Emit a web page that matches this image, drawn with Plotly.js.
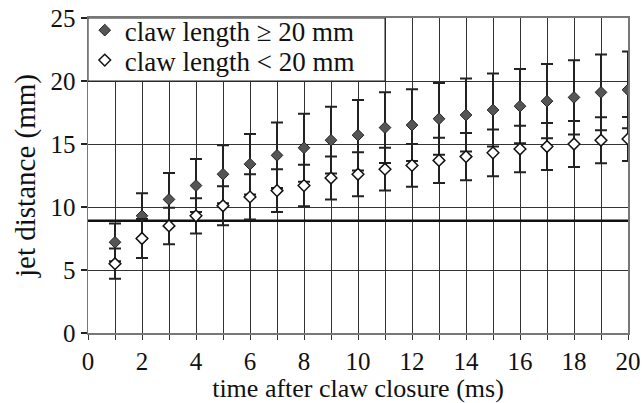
<!DOCTYPE html>
<html>
<head>
<meta charset="utf-8">
<script src="https://cdn.plot.ly/plotly-3.0.1.min.js"></script>
<style>
html,body{margin:0;padding:0;background:#fff;}
#chart{width:643px;height:403px;}
</style>
</head>
<body>
<div id="chart"></div>
<script>
// ---- data ----
const timeMs = [1,2,3,4,5,6,7,8,9,10,11,12,13,14,15,16,17,18,19,20];
const largeClaw = [7.2,9.3,10.6,11.7,12.6,13.4,14.1,14.7,15.3,15.7,16.3,16.5,17.0,17.3,17.7,18.0,18.4,18.7,19.1,19.3];
const largeClawErr = [1.5,1.8,2.1,2.1,2.3,2.4,2.6,2.7,2.65,2.8,2.8,2.85,2.85,2.9,2.9,2.95,2.95,2.95,3.0,3.05];
const smallClaw = [5.5,7.5,8.5,9.3,10.1,10.8,11.3,11.7,12.3,12.6,13.0,13.3,13.7,14.0,14.3,14.6,14.8,15.0,15.3,15.4];
const smallClawErr = [1.2,1.55,1.45,1.4,1.55,1.8,1.7,1.65,1.7,1.75,1.7,1.7,1.8,1.88,1.86,1.85,1.86,1.83,1.83,1.75];
const refLevel = 8.9;
const xTickVals = [0,1,2,3,4,5,6,7,8,9,10,11,12,13,14,15,16,17,18,19,20];
const xTickText = ['0','','2','','4','','6','','8','','10','','12','','14','','16','','18','','20'];
const yTickVals = [0,5,10,15,20,25];
const seriesNames = ['claw length \u2265 20 mm','claw length < 20 mm'];

const xRange = [0,20];
const yRange = [0,25];
const FONT = 'Liberation Serif, serif';

const traces = [
  {
    x: xRange, y: [refLevel, refLevel], mode: 'lines', showlegend: false,
    line: {color: '#111', width: 2.5}, hoverinfo: 'skip'
  },
  {
    x: timeMs, y: largeClaw, name: seriesNames[0], mode: 'markers', type: 'scatter',
    legend: 'legend',
    marker: {symbol: 'diamond', size: 9, color: '#555', line: {color: '#222', width: 1}},
    error_y: {type: 'data', array: largeClawErr, visible: true, color: '#222', thickness: 2, width: 6}
  },
  {
    x: timeMs, y: smallClaw, name: seriesNames[1], mode: 'markers', type: 'scatter',
    legend: 'legend2',
    marker: {symbol: 'diamond', size: 9, color: '#fff', line: {color: '#111', width: 1.5}},
    error_y: {type: 'data', array: smallClawErr, visible: true, color: '#222', thickness: 2, width: 6}
  }
];

const legendStyle = (yPos) => ({
  x: -0.006, y: yPos, xanchor: 'left', yanchor: 'middle',
  bgcolor: 'rgba(0,0,0,0)', borderwidth: 0,
  font: {family: FONT, size: 27, color: '#111'},
  itemclick: false
});

const layout = {
  width: 643, height: 403,
  margin: {l: 88, r: 15, t: 18, b: 70, autoexpand: false},
  paper_bgcolor: '#fff', plot_bgcolor: '#fff',
  font: {family: FONT, size: 25, color: '#111'},
  showlegend: true,
  legend: legendStyle(0.96),
  legend2: legendStyle(0.865),
  xaxis: {
    range: xRange, tickmode: 'array', tickvals: xTickVals, ticktext: xTickText,
    showgrid: true, gridcolor: '#333', gridwidth: 1,
    zeroline: false, showline: true, linecolor: '#777', linewidth: 2, mirror: true,
    ticks: 'outside', ticklen: 5, tickcolor: '#333', tickwidth: 1,
    tickfont: {family: FONT, size: 25, color: '#111'},
    title: {text: 'time after claw closure (ms)', font: {family: FONT, size: 26, color: '#111'}, standoff: 4},
    fixedrange: true
  },
  yaxis: {
    range: yRange, tickmode: 'array', tickvals: yTickVals,
    showgrid: true, gridcolor: '#333', gridwidth: 1,
    zeroline: false, showline: true, linecolor: '#777', linewidth: 1.5, mirror: true,
    ticks: 'outside', ticklen: 6, tickcolor: '#222', tickwidth: 1.5,
    tickfont: {family: FONT, size: 25, color: '#111'},
    title: {text: 'jet distance (mm)', font: {family: FONT, size: 29, color: '#111'}, standoff: 6},
    fixedrange: true
  },
  yaxis2: {
    overlaying: 'y', side: 'left', range: yRange, tickmode: 'array', tickvals: yTickVals,
    showgrid: false, zeroline: false, showline: false, showticklabels: false,
    ticks: 'inside', ticklen: 6, tickcolor: '#222', tickwidth: 1.5, fixedrange: true
  },
  shapes: [
    {type: 'rect', xref: 'x', yref: 'y', x0: 0, x1: 11, y0: 20, y1: 25,
     fillcolor: '#fff', line: {color: '#222', width: 1}, layer: 'above'}
  ]
};

Plotly.newPlot('chart', traces, layout, {displayModeBar: false, staticPlot: true});
</script>
</body>
</html>
